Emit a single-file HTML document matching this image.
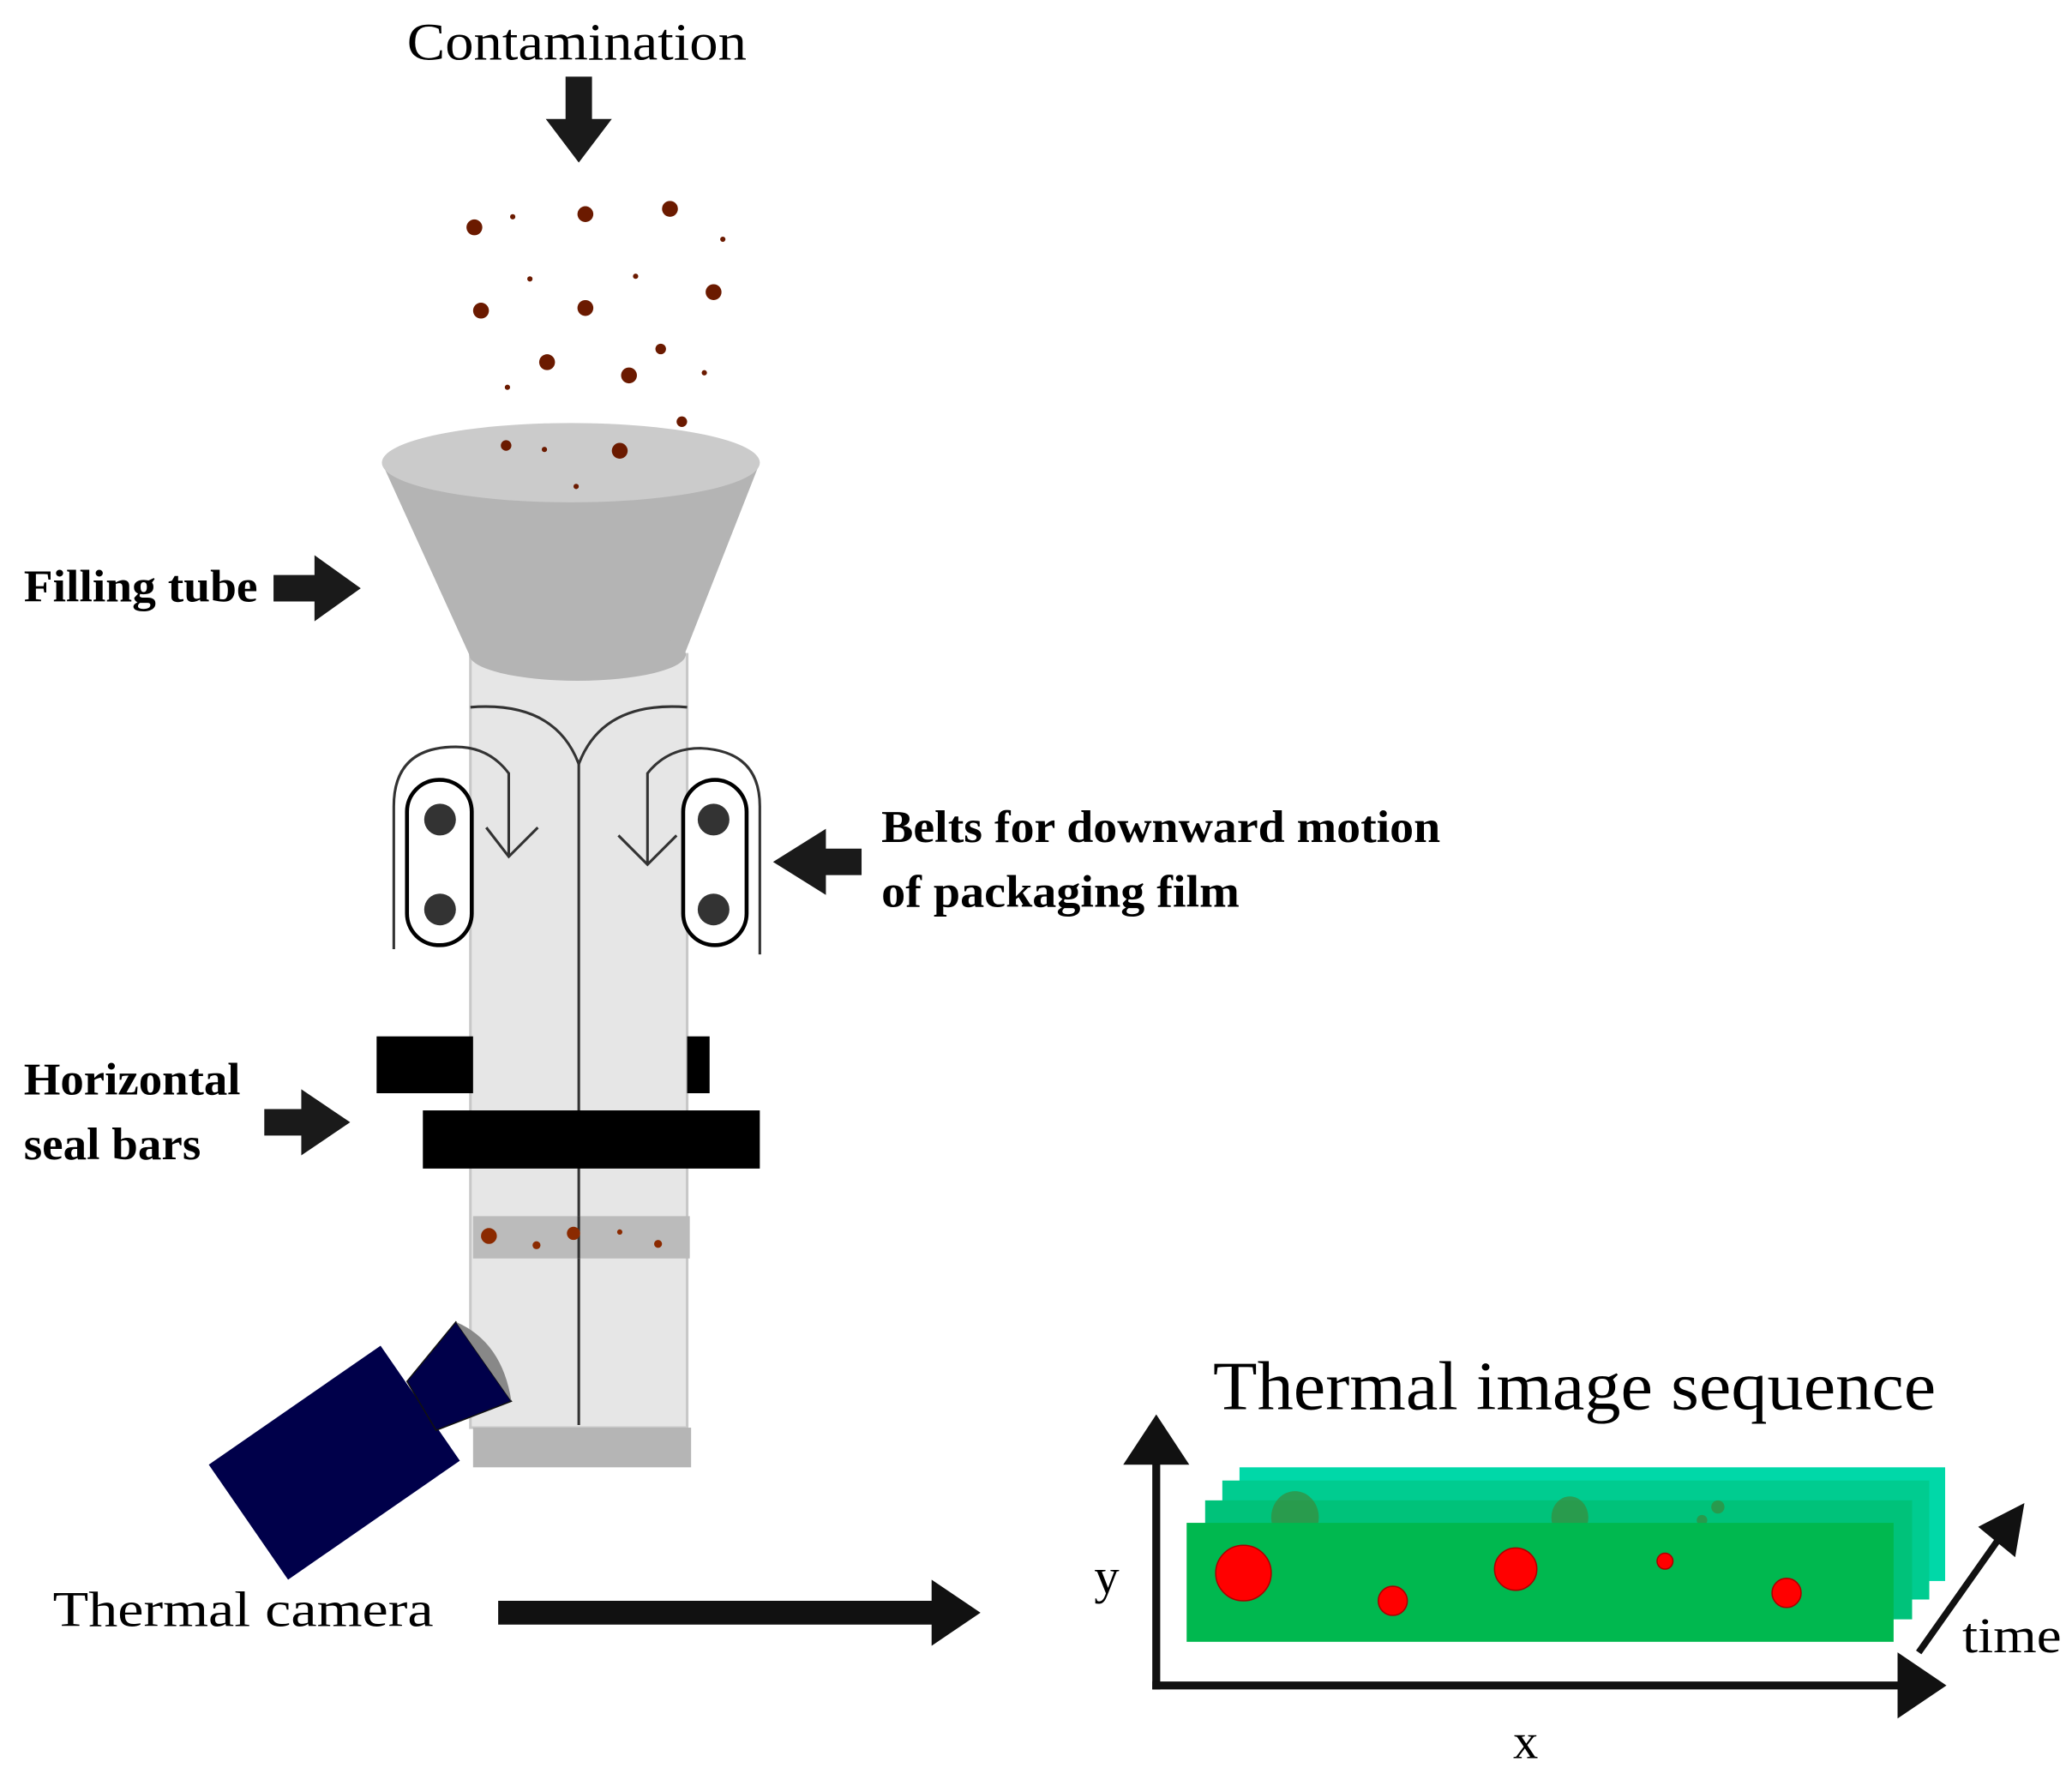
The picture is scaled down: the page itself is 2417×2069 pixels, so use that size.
<!DOCTYPE html>
<html><head><meta charset="utf-8"><style>html,body{margin:0;padding:0;background:#fff}svg{display:block}</style></head>
<body>
<svg width="2417" height="2069" viewBox="0 0 1568 1342" preserveAspectRatio="none" xmlns="http://www.w3.org/2000/svg" font-family="Liberation Serif, serif">
<rect width="1568" height="1342" fill="#fff"/>
<text x="308" y="45" font-size="40" textLength="257" lengthAdjust="spacingAndGlyphs">Contamination</text>
<polygon points="428,58 448,58 448,90 463,90 438,123 413,90 428,90" fill="#1a1a1a"/>
<g fill="#6b1a00">
<circle cx="359" cy="172" r="6"/><circle cx="388" cy="164" r="2"/><circle cx="443" cy="162" r="6"/><circle cx="507" cy="158" r="6"/><circle cx="547" cy="181" r="2"/>
<circle cx="401" cy="211" r="2"/><circle cx="481" cy="209" r="2"/><circle cx="540" cy="221" r="6"/><circle cx="364" cy="235" r="6"/><circle cx="443" cy="233" r="6"/>
<circle cx="414" cy="274" r="6"/><circle cx="500" cy="264" r="4"/><circle cx="476" cy="284" r="6"/><circle cx="533" cy="282" r="2"/><circle cx="384" cy="293" r="2"/>
<circle cx="516" cy="319" r="4"/>
</g>
<rect x="356" y="495" width="164" height="585" fill="#e6e6e6" stroke="#c8c8c8" stroke-width="2"/>
<polygon points="289,350 575,350 518,495 355,495" fill="#b4b4b4"/>
<ellipse cx="437" cy="495" rx="82" ry="20" fill="#b4b4b4"/>
<ellipse cx="432" cy="350" rx="143" ry="30" fill="#cbcbcb"/>
<g fill="#6b1a00"><circle cx="383" cy="337" r="4"/><circle cx="412" cy="340" r="2"/><circle cx="469" cy="341" r="6"/><circle cx="436" cy="368" r="2"/></g>
<g fill="none" stroke="#333" stroke-width="2">
<line x1="438" y1="575" x2="438" y2="1078"/>
<path d="M356,535 Q420,530 438,578 Q456,530 520,535"/>
<path d="M298,718 L298,610 Q298,565 345,565 Q370,565 385,585 L385,648 M368,626 L385,648 L407,626"/>
<path d="M575,722 L575,610 Q575,568 530,566 Q505,566 490,585 L490,654 M468,632 L490,654 L512,632"/>
</g>
<g fill="#fff" stroke="#000" stroke-width="3">
<rect x="308" y="590" width="49" height="125" rx="24"/>
<rect x="517" y="590" width="48" height="125" rx="24"/>
</g>
<g fill="#333"><circle cx="333" cy="620" r="12"/><circle cx="333" cy="688" r="12"/><circle cx="540" cy="620" r="12"/><circle cx="540" cy="688" r="12"/></g>
<rect x="285" y="784" width="73" height="43" fill="#000"/>
<rect x="520" y="784" width="17" height="43" fill="#000"/>
<rect x="320" y="840" width="255" height="44" fill="#000"/>
<rect x="358" y="920" width="164" height="32" fill="#bbb"/>
<line x1="438" y1="920" x2="438" y2="952" stroke="#333" stroke-width="2"/>
<g fill="#8b2a00"><circle cx="370" cy="935" r="6"/><circle cx="406" cy="942" r="3"/><circle cx="434" cy="933" r="5"/><circle cx="469" cy="932" r="2"/><circle cx="498" cy="941" r="3"/></g>
<rect x="358" y="1080" width="165" height="30" fill="#b5b5b5"/>
<polygon points="158,1108 288,1018 348,1105 218,1195" fill="#00004a"/>
<polygon points="308,1045 345,1000 387,1060 330,1082" fill="#00004a" stroke="#111" stroke-width="1"/>
<path d="M345,1000 Q380,1015 387,1060 Z" fill="#888"/>
<g font-weight="bold" font-size="34" lengthAdjust="spacingAndGlyphs">
<text x="18" y="455" textLength="177" lengthAdjust="spacingAndGlyphs">Filling tube</text>
<text x="667" y="637" textLength="423" lengthAdjust="spacingAndGlyphs">Belts for downward motion</text>
<text x="667" y="686" textLength="271" lengthAdjust="spacingAndGlyphs">of packaging film</text>
<text x="18" y="828" textLength="164" lengthAdjust="spacingAndGlyphs">Horizontal</text>
<text x="18" y="877" textLength="134" lengthAdjust="spacingAndGlyphs">seal bars</text>
</g>
<polygon points="207,435 238,435 238,420 273,445 238,470 238,455 207,455" fill="#1a1a1a"/>
<polygon points="652,642 625,642 625,627 585,652 625,677 625,662 652,662" fill="#1a1a1a"/>
<polygon points="200,839 228,839 228,824 265,849 228,874 228,859 200,859" fill="#1a1a1a"/>
<text x="40" y="1230" font-size="38" textLength="288" lengthAdjust="spacingAndGlyphs">Thermal camera</text>
<polygon points="377,1211 705,1211 705,1195 742,1220 705,1245 705,1229 377,1229" fill="#111"/>
<text x="918" y="1066" font-size="52" textLength="547" lengthAdjust="spacingAndGlyphs">Thermal image sequence</text>
<rect x="938" y="1110" width="534" height="86" fill="#00d8a8"/>
<rect x="925" y="1120" width="535" height="90" fill="#00cc90"/>
<rect x="912" y="1135" width="535" height="90" fill="#00c27a"/>
<g fill="#3a8a3a" opacity="0.7"><ellipse cx="980" cy="1148" rx="18" ry="20"/><ellipse cx="1188" cy="1148" rx="14" ry="16"/><circle cx="1300" cy="1140" r="5"/><circle cx="1288" cy="1150" r="4"/></g>
<rect x="898" y="1152" width="535" height="90" fill="#00b84f"/>
<g fill="#f00" stroke="#a00" stroke-width="1">
<ellipse cx="941" cy="1190" rx="21" ry="21"/><ellipse cx="1054" cy="1211" rx="11" ry="11"/><ellipse cx="1147" cy="1187" rx="16" ry="16"/><ellipse cx="1260" cy="1181" rx="6" ry="6"/><ellipse cx="1352" cy="1205" rx="11" ry="11"/>
</g>
<line x1="875" y1="1105" x2="875" y2="1278" stroke="#111" stroke-width="6"/>
<polygon points="850,1108 875,1070 900,1108" fill="#111"/>
<line x1="872" y1="1275" x2="1440" y2="1275" stroke="#111" stroke-width="6"/>
<polygon points="1436,1250 1473,1275 1436,1300" fill="#111"/>
<line x1="1452" y1="1250" x2="1512" y2="1165" stroke="#111" stroke-width="5"/>
<polygon points="1497,1155 1532,1137 1525,1178" fill="#111"/>
<text x="828" y="1205" font-size="38">y</text>
<text x="1145" y="1330" font-size="38">x</text>
<text x="1485" y="1250" font-size="38" textLength="75" lengthAdjust="spacingAndGlyphs">time</text>
</svg>
</body></html>
